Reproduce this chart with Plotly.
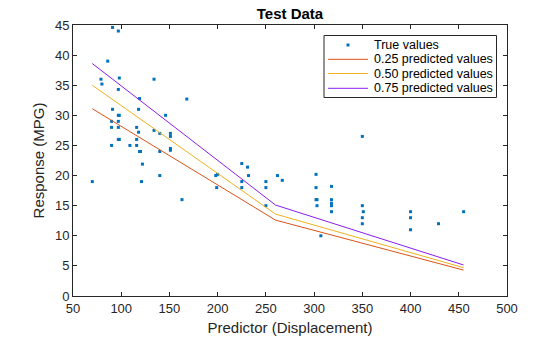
import plotly.graph_objects as go

displacement = [91, 97, 86, 79, 80, 98, 97, 134, 119, 118, 91, 168, 97, 98, 146, 90, 97, 90, 97, 116,
                118, 134, 140, 151, 151, 97, 98, 116, 90, 109, 116, 119, 120, 140, 151, 151, 122, 70, 121, 140,
                163, 225, 231, 232, 225, 225, 200, 198, 199, 250, 250, 250, 262, 267, 302, 302, 302, 303, 303, 307,
                318, 318, 318, 318, 318, 350, 350, 351, 350, 350, 400, 400, 400, 429, 455]
mpg = [44.6, 44, 39, 36, 35.2, 36.2, 34.3, 36, 32.8, 31, 31, 32.7, 30, 30, 30, 29, 29, 28, 28, 28,
       27.2, 27.5, 27, 27, 26.5, 26, 26, 26, 25, 25, 25, 24, 24, 24, 24.5, 24.2, 21.9, 19, 19, 20,
       16, 22, 21.4, 20, 19, 18, 20.2, 20, 18, 19, 18, 15, 20, 19.2, 20.2, 18, 16, 16, 15, 10,
       18.2, 16, 15.4, 15, 14, 26.5, 15, 14, 13, 12, 14, 13, 11, 12, 14]

pred_x = [70, 260, 455]
pred_q25 = [31.1, 12.6, 4.3]
pred_q50 = [35.0, 13.6, 4.7]
pred_q75 = [38.6, 15.1, 5.15]

series_names = ["True values", "0.25 predicted values", "0.50 predicted values", "0.75 predicted values"]
series_colors = ["#0072BD", "#D95319", "#EDB120", "#8A1EF0"]

W, H = 560, 337
L, R, T, B = 73, 53, 25, 41
PW, PH = W - L - R, H - T - B


def px_to_paper(px, py):
    return (px - L) / PW, (H - B - py) / PH


fig = go.Figure()
fig.add_trace(go.Scatter(x=displacement, y=mpg, mode="markers", name=series_names[0],
                         marker=dict(symbol="square", size=3, color=series_colors[0], line=dict(width=0))))
for name, col, ys in zip(series_names[1:], series_colors[1:], [pred_q25, pred_q50, pred_q75]):
    fig.add_trace(go.Scatter(x=pred_x, y=ys, mode="lines", name=name,
                             line=dict(color=col, width=1)))

axis_common = dict(showline=True, linecolor="#262626", linewidth=1, mirror="ticks",
                   ticks="inside", ticklen=4, tickcolor="#262626", showgrid=False, zeroline=False,
                   automargin=False,
                   tickfont=dict(family="Liberation Sans", size=13, color="#262626"))
fig.update_xaxes(range=[50, 500], tickvals=list(range(50, 501, 50)),
                 title=dict(text="Predictor (Displacement)", standoff=7,
                            font=dict(family="Liberation Sans", size=15, color="#262626")),
                 **axis_common)
fig.update_yaxes(range=[0, 45], tickvals=list(range(0, 46, 5)),
                 title=dict(text="Response (MPG)", standoff=6,
                            font=dict(family="Liberation Sans", size=15, color="#262626")),
                 **axis_common)

# Custom legend (MATLAB-style compact box)
shapes = []
annotations = []
bx0, by1 = px_to_paper(324, 35.5)
bx1, by0 = px_to_paper(496.5, 97.5)
shapes.append(dict(type="rect", xref="paper", yref="paper", x0=bx0, x1=bx1, y0=by0, y1=by1,
                   line=dict(color="#262626", width=1), fillcolor="white", layer="above"))
row_py = [45, 59.3, 73.5, 88.3]
for i, (name, col, py) in enumerate(zip(series_names, series_colors, row_py)):
    if i == 0:
        mx0, my0 = px_to_paper(346.5, py + 1.5)
        mx1, my1 = px_to_paper(349.5, py - 1.5)
        shapes.append(dict(type="rect", xref="paper", yref="paper", x0=mx0, x1=mx1, y0=my0, y1=my1,
                           line=dict(width=0), fillcolor=col, layer="above"))
    else:
        lx0, ly = px_to_paper(328, py)
        lx1, _ = px_to_paper(368, py)
        shapes.append(dict(type="line", xref="paper", yref="paper", x0=lx0, x1=lx1, y0=ly, y1=ly,
                           line=dict(color=col, width=1), layer="above"))
    tx, ty = px_to_paper(371.5, py)
    annotations.append(dict(text=name, xref="paper", yref="paper", x=tx, y=ty,
                            xanchor="left", yanchor="middle", showarrow=False,
                            font=dict(family="Liberation Sans", size=12.5, color="black")))

fig.update_layout(
    width=W, height=H,
    margin=dict(l=L, r=R, t=T, b=B),
    paper_bgcolor="white", plot_bgcolor="white",
    title=dict(text="<b>Test Data</b>", x=0.5, xref="paper", y=1 - 13.5 / H, yref="container",
               xanchor="center", yanchor="middle",
               font=dict(family="Liberation Sans", size=15, color="black")),
    showlegend=False,
    shapes=shapes,
    annotations=annotations,
)

fig.write_html("out.html")
